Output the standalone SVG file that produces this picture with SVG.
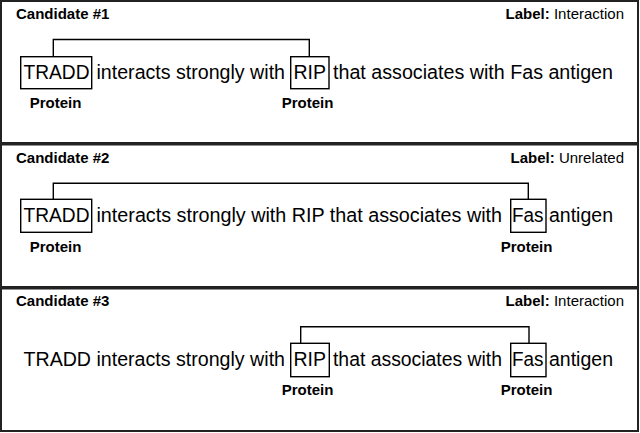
<svg xmlns="http://www.w3.org/2000/svg" width="640" height="433" viewBox="0 0 640 433">
<style>
.panel{fill:#fff;stroke:#222;stroke-width:2}
.box{fill:none;stroke:#000;stroke-width:1.4}
.conn{fill:none;stroke:#000;stroke-width:1.4}
.sent{font-family:"Liberation Sans",Arial,sans-serif;font-size:19.4px;fill:#000}
.b{font-family:"Liberation Sans",Arial,sans-serif;font-size:15px;font-weight:bold;fill:#000}
.r{font-family:"Liberation Sans",Arial,sans-serif;font-size:15px;fill:#000}
.prot{font-family:"Liberation Sans",Arial,sans-serif;font-size:15px;font-weight:bold;fill:#000;text-anchor:middle}
</style>
<rect width="640" height="433" fill="#fff"/>

<g id="candidate1">
  <rect class="panel" x="1" y="1" width="637" height="142"/>
  <text class="b" x="16" y="18.5">Candidate #1</text>
  <text class="r" x="624" y="18.5" text-anchor="end"><tspan class="b">Label:</tspan> Interaction</text>
  <g class="sent" transform="translate(0,78.5) scale(1,1.07)">
    <text x="23.5" y="0" textLength="66" lengthAdjust="spacingAndGlyphs">TRADD</text>
    <text x="96.5" y="0" textLength="188.5" lengthAdjust="spacingAndGlyphs">interacts strongly with</text>
    <text x="293.5" y="0" textLength="32.5" lengthAdjust="spacingAndGlyphs">RIP</text>
    <text x="333" y="0" textLength="280" lengthAdjust="spacingAndGlyphs">that associates with Fas antigen</text>
  </g>
</g>
<g id="c1-tradd">
  <rect class="box" x="20.7" y="56.7" width="71" height="32"/>
  <text class="prot" x="55.5" y="108">Protein</text>
</g>
<g id="c1-rip">
  <rect class="box" x="290.7" y="56.7" width="38.3" height="32"/>
  <text class="prot" x="307.5" y="108">Protein</text>
</g>

<g id="candidate2">
  <rect class="panel" x="1" y="144.5" width="637" height="142.5"/>
  <text class="b" x="16" y="163">Candidate #2</text>
  <text class="r" x="624" y="163" text-anchor="end"><tspan class="b">Label:</tspan> Unrelated</text>
  <g class="sent" transform="translate(0,222) scale(1,1.07)">
    <text x="23.5" y="0" textLength="66" lengthAdjust="spacingAndGlyphs">TRADD</text>
    <text x="96.5" y="0" textLength="405.5" lengthAdjust="spacingAndGlyphs">interacts strongly with RIP that associates with</text>
    <text x="512" y="0" textLength="31.5" lengthAdjust="spacingAndGlyphs">Fas</text>
    <text x="549" y="0" textLength="64" lengthAdjust="spacingAndGlyphs">antigen</text>
  </g>
</g>
<g id="c2-tradd">
  <rect class="box" x="20.7" y="199.3" width="71" height="33"/>
  <text class="prot" x="55.5" y="251.7">Protein</text>
</g>
<g id="c2-fas">
  <rect class="box" x="510.7" y="199.3" width="35.3" height="33"/>
  <text class="prot" x="526.5" y="251.7">Protein</text>
</g>

<g id="candidate3">
  <rect class="panel" x="1" y="288.5" width="637" height="142.5"/>
  <text class="b" x="16" y="306">Candidate #3</text>
  <text class="r" x="624" y="306" text-anchor="end"><tspan class="b">Label:</tspan> Interaction</text>
  <g class="sent" transform="translate(0,365.5) scale(1,1.07)">
    <text x="23.5" y="0" textLength="261.5" lengthAdjust="spacingAndGlyphs">TRADD interacts strongly with</text>
    <text x="293.5" y="0" textLength="32.5" lengthAdjust="spacingAndGlyphs">RIP</text>
    <text x="333" y="0" textLength="169" lengthAdjust="spacingAndGlyphs">that associates with</text>
    <text x="512" y="0" textLength="31.5" lengthAdjust="spacingAndGlyphs">Fas</text>
    <text x="549" y="0" textLength="64" lengthAdjust="spacingAndGlyphs">antigen</text>
  </g>
</g>
<g id="c3-rip">
  <rect class="box" x="290.7" y="343.3" width="38.6" height="33.4"/>
  <text class="prot" x="307.5" y="395">Protein</text>
</g>
<g id="c3-fas">
  <rect class="box" x="510.7" y="343.3" width="35.3" height="33.4"/>
  <text class="prot" x="526.5" y="395">Protein</text>
</g>

<g id="connectors">
  <polyline class="conn" points="53.3,56.7 53.3,39.5 309.3,39.5 309.3,56.7"/>
  <polyline class="conn" points="53.3,199.3 53.3,183.3 528.3,183.3 528.3,199.3"/>
  <polyline class="conn" points="300.7,343.3 300.7,326.7 529,326.7 529,343.3"/>
</g>
</svg>
